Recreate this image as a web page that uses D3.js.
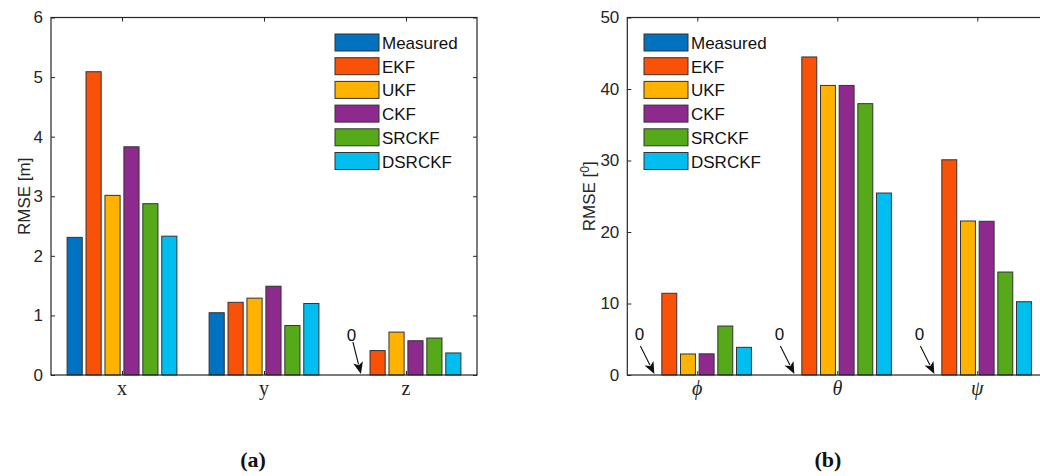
<!DOCTYPE html>
<html><head><meta charset="utf-8">
<script src="https://cdn.jsdelivr.net/npm/d3@7"></script>
<style>
body{margin:0;background:#fff;}
svg{display:block;}
</style></head>
<body>
<svg id="chart" width="1040" height="476"></svg>
<script>
const series = ["Measured","EKF","UKF","CKF","SRCKF","DSRCKF"];
const colors = ["#0072C0","#F95108","#FFB300","#8E2A8D","#56AA19","#00BEF0"];

const catsA = ["x","y","z"];
const measuredA = [2.31, 1.045, 0];
const ekfA      = [5.09, 1.22, 0.41];
const ukfA      = [3.015, 1.29, 0.72];
const ckfA      = [3.83, 1.49, 0.575];
const srckfA    = [2.875, 0.83, 0.62];
const dsrckfA   = [2.33, 1.20, 0.37];
const ticksA = [0,1,2,3,4,5,6];

const catsB = ["\u03D5","\u03B8","\u03C8"];
const measuredB = [0, 0, 0];
const ekfB      = [11.43, 44.48, 30.1];
const ukfB      = [2.94, 40.5, 21.54];
const ckfB      = [2.96, 40.5, 21.5];
const srckfB    = [6.85, 37.95, 14.4];
const dsrckfB   = [3.87, 25.45, 10.25];
const ticksB = [0,10,20,30,40,50];

const svg = d3.select("#chart");
const axisColor = "#262626";
const sans = "Arial, 'Liberation Sans', sans-serif";
const serif = "'Liberation Serif','Times New Roman',serif";

function panel(opts){
  const {left,right,top,bottom,cats,values,yMax,ticks,ylabel,legendX,annotate,arrow,caption,captionX,ylabelX} = opts;
  const g = svg.append("g");
  const x0 = d3.scaleBand().domain(cats).range([left,right]).paddingInner(0.2).paddingOuter(0.1);
  const x1 = d3.scaleBand().domain(series).range([0,x0.bandwidth()]).paddingInner(0.2).paddingOuter(0.1);
  const y = d3.scaleLinear().domain([0,yMax]).range([bottom,top]);

  cats.forEach((c,ci)=>{
    series.forEach((s,si)=>{
      const v = values[si][ci];
      g.append("rect")
        .attr("x", x0(c)+x1(s))
        .attr("y", y(v))
        .attr("width", x1.bandwidth())
        .attr("height", Math.max(0,y(0)-y(v)))
        .attr("fill", colors[si])
        .attr("stroke", v>0 ? "#333" : "#aaa")
        .attr("stroke-width", 1);
    });
  });

  const yAxisL = d3.axisLeft(y).tickValues(ticks).tickFormat(d3.format("d")).tickSize(-4).tickPadding(8).tickSizeOuter(0);
  const gyl = g.append("g").attr("transform",`translate(${left},0)`).call(yAxisL);
  const yAxisR = d3.axisRight(y).tickValues(ticks).tickSize(-4).tickFormat("").tickSizeOuter(0);
  g.append("g").attr("transform",`translate(${right},0)`).call(yAxisR);
  const xPt = d3.scalePoint().domain(cats).range([x0(cats[0])+x0.bandwidth()/2, x0(cats[cats.length-1])+x0.bandwidth()/2]);
  g.append("g").attr("transform",`translate(0,${bottom})`).call(d3.axisBottom(xPt).tickSize(-4).tickSizeOuter(0).tickFormat(""));
  g.append("g").attr("transform",`translate(0,${top})`).call(d3.axisTop(xPt).tickSize(-4).tickSizeOuter(0).tickFormat(""));
  g.selectAll(".domain").remove();
  g.selectAll(".tick line").attr("stroke",axisColor);
  gyl.selectAll(".tick text").attr("fill",axisColor).attr("font-family",sans).attr("font-size",17)
     .style("font-family",sans).style("font-size","17px");
  g.append("rect").attr("x",left).attr("y",top).attr("width",right-left).attr("height",bottom-top)
    .attr("fill","none").attr("stroke",axisColor).attr("stroke-width",1.2);

  g.selectAll(".cat").data(cats).enter().append("text")
    .attr("x", d=>xPt(d)).attr("y", bottom+20)
    .attr("text-anchor","middle")
    .style("font-family",serif)
    .style("font-size","20px")
    .style("font-style", opts.italic ? "italic" : "normal")
    .attr("fill","#222")
    .text(d=>d);

  const yl = g.append("text")
    .attr("transform",`translate(${ylabelX},${(top+bottom)/2}) rotate(-90)`)
    .attr("text-anchor","middle")
    .attr("fill",axisColor)
    .style("font-family",sans)
    .style("font-size","17px");
  yl.append("tspan").text(ylabel[0]);
  if (ylabel[1]) {
    yl.append("tspan").attr("dy",-6).style("font-size","12px").text(ylabel[1]);
    yl.append("tspan").attr("dy",6).text(ylabel[2]);
  }

  const lg = g.append("g");
  series.forEach((s,i)=>{
    const ly = 34 + i*23.7;
    lg.append("rect").attr("x",legendX).attr("y",ly).attr("width",44).attr("height",17)
      .attr("fill",colors[i]).attr("stroke","#333").attr("stroke-width",1);
    lg.append("text").attr("x",legendX+47).attr("y",ly+15)
      .style("font-family",sans).style("font-size","17px")
      .attr("fill","#111").text(s);
  });

  annotate.forEach(ci=>{
    const bx = x0(cats[ci]) + x1(series[0]) + x1.bandwidth()*arrow.frac;
    const tip = [bx, y(0)-1];
    const tail = [bx+arrow.dx, y(0)-1+arrow.dy];
    const ang = Math.atan2(tip[1]-tail[1], tip[0]-tail[0]);
    const L=12, W=5;
    const bxp = tip[0]-L*Math.cos(ang), byp = tip[1]-L*Math.sin(ang);
    g.append("line").attr("x1",tail[0]).attr("y1",tail[1]).attr("x2",bxp+2*Math.cos(ang)).attr("y2",byp+2*Math.sin(ang))
      .attr("stroke","#111").attr("stroke-width",1.1);
    const px = -Math.sin(ang), py = Math.cos(ang);
    g.append("path").attr("d",`M${tip[0]},${tip[1]}L${bxp+W*px},${byp+W*py}L${bxp+3*Math.cos(ang)},${byp+3*Math.sin(ang)}L${bxp-W*px},${byp-W*py}Z`)
      .attr("fill","#111");
    g.append("text").attr("x",tail[0]+arrow.tx).attr("y",tail[1]+arrow.ty)
      .attr("text-anchor","middle")
      .style("font-family",sans).style("font-size","17px")
      .attr("fill","#111").text("0");
  });

  const cap = g.append("text").attr("x",captionX).attr("y",467).attr("text-anchor","middle")
    .style("font-family",serif).style("font-size","22px").style("font-weight","bold").attr("fill","#111");
  cap.text("(" + caption + ")");
}

panel({left:51,right:477,top:17.5,bottom:375,cats:catsA,
  values:[measuredA,ekfA,ukfA,ckfA,srckfA,dsrckfA],yMax:6,ticks:ticksA,
  ylabel:["RMSE [m]"],legendX:335,annotate:[2],arrow:{frac:0.65,dx:-8,dy:-32,tx:-1.5,ty:-1},
  caption:"a",captionX:253,ylabelX:30,italic:false});

panel({left:627.3,right:1047.3,top:17.5,bottom:375,cats:catsB,
  values:[measuredB,ekfB,ukfB,ckfB,srckfB,dsrckfB],yMax:50,ticks:ticksB,
  ylabel:["RMSE [","0","]"],legendX:644,annotate:[0,1,2],arrow:{frac:0.75,dx:-14,dy:-28,tx:-1,ty:-6},
  caption:"b",captionX:828,ylabelX:595,italic:true});
</script>
</body></html>
